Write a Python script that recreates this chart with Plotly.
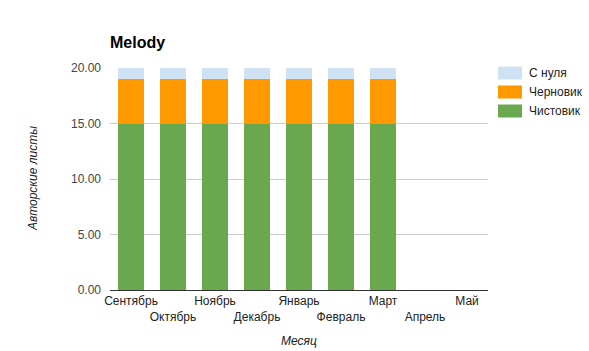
import plotly.graph_objects as go

months = ["Сентябрь", "Октябрь", "Ноябрь", "Декабрь", "Январь", "Февраль", "Март", "Апрель", "Май"]
chistovik = [15, 15, 15, 15, 15, 15, 15, 0, 0]
chernovik = [4, 4, 4, 4, 4, 4, 4, 0, 0]
s_nulya = [1, 1, 1, 1, 1, 1, 1, 0, 0]
y_ticks = [0, 5, 10, 15, 20]

series = [("Чистовик", chistovik, "#6aa84f"),
          ("Черновик", chernovik, "#ff9900"),
          ("С нуля", s_nulya, "#cfe2f3")]

ticktext = [m if i % 2 == 0 else "<br>" + m for i, m in enumerate(months)]

L, R, T, B = 110, 488, 68, 290
W, H = R - L, B - T

def px(x):
    return (x - L) / W

def py(y):
    return (B - y) / H

fig = go.Figure()
for name, vals, color in series:
    fig.add_bar(x=months, y=vals, name=name, marker=dict(color=color, line_width=0))

# legend drawn as swatches + labels (top item = last stacked series)
shapes, annotations = [], []
for i, (name, vals, color) in enumerate(reversed(series)):
    cy = 73 + 19 * i
    shapes.append(dict(type="rect", xref="paper", yref="paper",
                       x0=px(498), x1=px(522), y0=py(cy + 6.5), y1=py(cy - 6.5),
                       fillcolor=color, line_width=0))
    annotations.append(dict(text=name, xref="paper", yref="paper",
                            x=px(527), y=py(cy), xanchor="left", yanchor="middle",
                            showarrow=False, font=dict(size=12, color="#222")))

annotations += [
    dict(text="<i>Месяц</i>", xref="paper", yref="paper",
         x=px(299), y=py(341), xanchor="center", yanchor="middle",
         showarrow=False, font=dict(size=12, color="#222")),
    dict(text="<i>Авторские листы</i>", xref="paper", yref="paper",
         x=px(33), y=py(179), xanchor="center", yanchor="middle", textangle=-90,
         showarrow=False, font=dict(size=12, color="#222")),
]

fig.update_layout(
    width=589, height=351,
    barmode="stack", bargap=0.37,
    margin=dict(l=L, r=589 - R, t=T, b=351 - B),
    plot_bgcolor="white", paper_bgcolor="white",
    font=dict(family="Liberation Sans, Arial, sans-serif", size=12, color="#222"),
    title=dict(text="<b>Melody</b>", x=110/589, xref="container", xanchor="left",
               y=1-42/351, yref="container", yanchor="middle",
               font=dict(size=16, color="#000")),
    showlegend=False,
    shapes=shapes,
    annotations=annotations,
)
fig.update_xaxes(
    tickmode="array", tickvals=months, ticktext=ticktext, tickangle=0,
    tickfont=dict(size=12, color="#222"), showgrid=False, ticks="", automargin=False,
    showline=True, linecolor="#333", linewidth=1,
)
fig.update_yaxes(
    range=[0, 20], tickvals=y_ticks, tickformat=".2f", automargin=False,
    tickfont=dict(size=12, color="#444"), showgrid=True, gridcolor="#cccccc",
    zeroline=False, ticklabelstandoff=8,
)
fig.write_html("out.html")
